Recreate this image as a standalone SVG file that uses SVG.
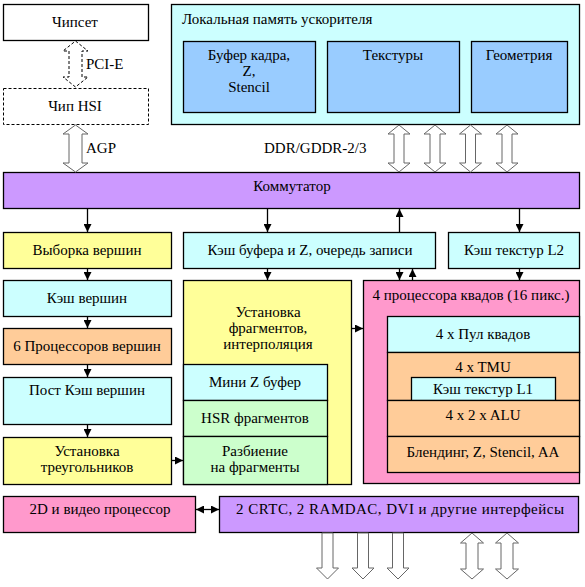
<svg xmlns="http://www.w3.org/2000/svg" width="585" height="587" viewBox="0 0 585 587">
<defs>
<marker id="ah" markerWidth="8" markerHeight="8" refX="8" refY="4" orient="auto-start-reverse" markerUnits="userSpaceOnUse"><path d="M0,0 L8,4 L0,8 Z" fill="#000"/></marker>
</defs>
<style>
.b{stroke:#000;stroke-width:1.3}
.d{stroke:#000;stroke-width:1;stroke-dasharray:3,2;fill:#fff}
.t{font-family:"Liberation Serif","Times New Roman",serif;font-size:15px;fill:#000;text-anchor:middle}
.l{text-anchor:start}
.w{fill:#fff}.c{fill:#CCFFFF}.bl{fill:#99CCFF}.p{fill:#CC99FF}.y{fill:#FFFF99}.o{fill:#FFCC99}.k{fill:#FF99CC}.g{fill:#CCFFCC}
.a{stroke:#000;stroke-width:1.3;fill:none;marker-end:url(#ah)}
.ha{stroke:#666;stroke-width:1;fill:#fff}
</style>
<g id="chipset"><rect class="b w" x="3.5" y="4.5" width="145" height="36"/><text class="t" x="75" y="27">Чипсет</text></g>
<g id="hsi"><rect class="d" x="3.5" y="88.5" width="145" height="36"/><text class="t" x="75" y="111">Чип HSI</text></g>
<g id="localmem"><rect class="b c" x="171.5" y="4.5" width="408" height="120"/><text class="t l" x="182" y="24">Локальная память ускорителя</text>
<rect class="b bl" x="183.5" y="41.5" width="132" height="71"/><text class="t" x="249" y="60">Буфер кадра,</text><text class="t" x="249" y="76">Z,</text><text class="t" x="249" y="92">Stencil</text>
<rect class="b bl" x="327.5" y="41.5" width="132" height="71"/><text class="t" x="393" y="60">Текстуры</text>
<rect class="b bl" x="471.5" y="41.5" width="96" height="71"/><text class="t" x="519" y="60">Геометрия</text></g>
<g id="commutator"><rect class="b p" x="3.5" y="172.5" width="576" height="36"/><text class="t" x="292" y="191">Коммутатор</text></g>
<g id="vfetch"><rect class="b y" x="3.5" y="232.5" width="168" height="36"/><text class="t" x="87" y="255">Выборка вершин</text></g>
<g id="zcache"><rect class="b c" x="183.5" y="232.5" width="252" height="36"/><text class="t" x="310" y="255">Кэш буфера и Z, очередь записи</text></g>
<g id="l2"><rect class="b c" x="448.5" y="232.5" width="131" height="36"/><text class="t" x="514" y="255">Кэш текстур L2</text></g>
<g id="vcache"><rect class="b c" x="3.5" y="280.5" width="168" height="36"/><text class="t" x="87" y="303">Кэш вершин</text></g>
<g id="vproc"><rect class="b o" x="3.5" y="328.5" width="168" height="36"/><text class="t" x="87" y="351">6 Процессоров вершин</text></g>
<g id="postcache"><rect class="b c" x="3.5" y="377.5" width="168" height="47"/><text class="t" x="87" y="395">Пост Кэш вершин</text></g>
<g id="trisetup"><rect class="b y" x="3.5" y="437.5" width="168" height="47"/><text class="t" x="87" y="456">Установка</text><text class="t" x="87" y="472">треугольников</text></g>
<g id="fragsetup"><rect class="b y" x="183.5" y="280.5" width="168" height="204"/><text class="t" x="268" y="317">Установка</text><text class="t" x="268" y="333">фрагментов,</text><text class="t" x="268" y="349">интерполяция</text>
<rect class="b c" x="183.5" y="364.5" width="144" height="36"/><text class="t" x="255" y="387">Мини Z буфер</text>
<rect class="b g" x="183.5" y="400.5" width="144" height="36"/><text class="t" x="255" y="423">HSR фрагментов</text>
<rect class="b g" x="183.5" y="436.5" width="144" height="48"/><text class="t" x="255" y="456">Разбиение</text><text class="t" x="255" y="472">на фрагменты</text></g>
<g id="quadproc"><rect class="b k" x="363.5" y="280.5" width="216" height="203"/><text class="t" x="471" y="300">4 процессора квадов (16 пикс.)</text>
<rect class="b c" x="387.5" y="316.5" width="192" height="36"/><text class="t" x="483" y="339">4 x Пул квадов</text>
<rect class="b o" x="387.5" y="352.5" width="192" height="48"/><text class="t" x="483" y="372">4 x TMU</text>
<rect class="b c" x="411.5" y="377.5" width="144" height="23"/><text class="t" x="483" y="394">Кэш текстур L1</text>
<rect class="b o" x="387.5" y="400.5" width="192" height="36"/><text class="t" x="483" y="420">4 x 2 x ALU</text>
<rect class="b o" x="387.5" y="436.5" width="192" height="36"/><text class="t" x="483" y="457">Блендинг, Z, Stencil, AA</text></g>
<g id="video2d"><rect class="b k" x="3.5" y="496.5" width="192" height="36"/><text class="t" x="100" y="514">2D и видео процессор</text></g>
<g id="crtc"><rect class="b p" x="219.5" y="496.5" width="359" height="36"/><text class="t" x="400" y="514" textLength="328" lengthAdjust="spacing">2 CRTC, 2 RAMDAC, DVI и другие интерфейсы</text></g>
<g id="connectors">
<path class="d" d="M75.5,41 L88,51 L82,51 L82,77 L88,77 L75.5,87 L63,77 L69,77 L69,51 L63,51 Z"/>
<text class="t l" x="86" y="69">PCI-E</text>
<path class="ha" d="M75.5,125 L88,134 L82,134 L82,163 L88,163 L75.5,172 L63,163 L69,163 L69,134 L63,134 Z"/>
<text class="t l" x="86" y="153">AGP</text>
<text class="t l" x="264" y="153">DDR/GDDR-2/3</text>
<path class="ha" d="M399,125 L410,134 L404,134 L404,163 L410,163 L399,172 L388,163 L394,163 L394,134 L388,134 Z"/>
<path class="ha" d="M435,125 L446,134 L440,134 L440,163 L446,163 L435,172 L424,163 L430,163 L430,134 L424,134 Z"/>
<path class="ha" d="M470.5,125 L481.5,134 L475.5,134 L475.5,163 L481.5,163 L470.5,172 L459.5,163 L465.5,163 L465.5,134 L459.5,134 Z"/>
<path class="ha" d="M507,125 L518,134 L512,134 L512,163 L518,163 L507,172 L496,163 L502,163 L502,134 L496,134 Z"/>
<path class="ha" d="M322,533 L333,533 L333,568 L338.5,568 L327.5,579 L316.5,568 L322,568 Z"/>
<path class="ha" d="M357.5,533 L368.5,533 L368.5,568 L374,568 L363,579 L352,568 L357.5,568 Z"/>
<path class="ha" d="M392.5,533 L403.5,533 L403.5,568 L409,568 L398,579 L387,568 L392.5,568 Z"/>
<path class="ha" d="M472,533 L483.5,543 L478,543 L478,569 L483.5,569 L472,579 L460.5,569 L466,569 L466,543 L460.5,543 Z"/>
<path class="ha" d="M507,533 L518.5,543 L513,543 L513,569 L518.5,569 L507,579 L495.5,569 L501,569 L501,543 L495.5,543 Z"/>
<line class="a" x1="87.5" y1="209" x2="87.5" y2="232"/>
<line class="a" x1="87.5" y1="269" x2="87.5" y2="280"/>
<line class="a" x1="87.5" y1="317" x2="87.5" y2="328"/>
<line class="a" x1="87.5" y1="365" x2="87.5" y2="377"/>
<line class="a" x1="87.5" y1="425" x2="87.5" y2="437"/>
<line class="a" x1="267.5" y1="209" x2="267.5" y2="232"/>
<line class="a" x1="267.5" y1="269" x2="267.5" y2="280"/>
<line class="a" x1="399.5" y1="232" x2="399.5" y2="209"/>
<line class="a" x1="519.5" y1="209" x2="519.5" y2="232"/>
<line class="a" x1="519.5" y1="269" x2="519.5" y2="280"/>
<line class="a" x1="399.5" y1="269" x2="399.5" y2="280"/>
<line class="a" x1="412.5" y1="280" x2="412.5" y2="269"/>
<line class="a" x1="172" y1="460.5" x2="183" y2="460.5"/>
<line class="a" x1="352" y1="328.5" x2="363" y2="328.5"/>
<line class="a" x1="196" y1="509.5" x2="219" y2="509.5" style="marker-start:url(#ah)"/>
</g>
</svg>
